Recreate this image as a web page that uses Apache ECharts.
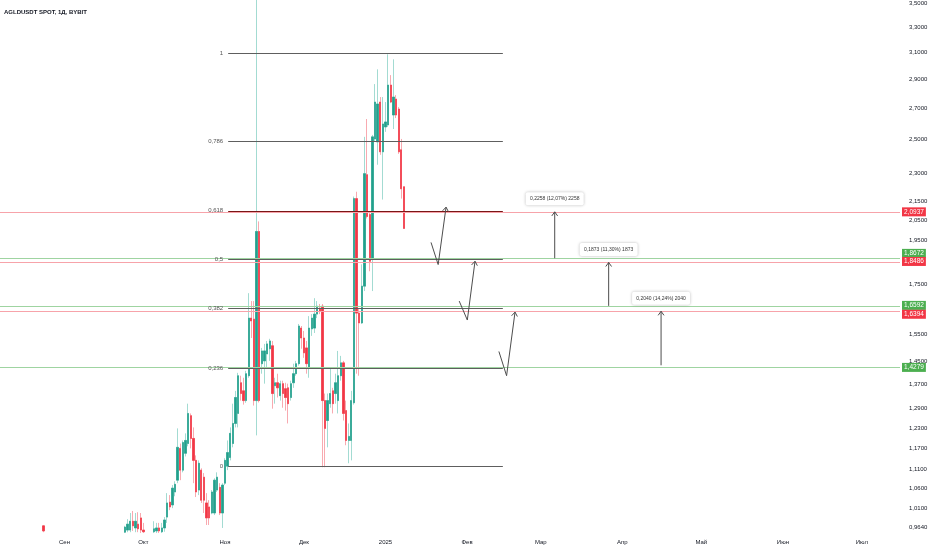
<!DOCTYPE html>
<html><head><meta charset="utf-8">
<script src="https://cdn.jsdelivr.net/npm/echarts@6/dist/echarts.min.js"></script>
<style>html,body{margin:0;padding:0;background:#fff}#c{width:932px;height:550px}</style>
</head><body><div id="c"></div>
<script>
const chartTitle = 'AGLDUSDT SPOT, 1Д, BYBIT';
const axisStart = '2024-08-08';
const axisEnd = '2025-07-15';
const monthTicks = ['2024-09-01','2024-10-01','2024-11-01','2024-12-01','2025-01-01','2025-02-01','2025-03-01','2025-04-01','2025-05-01','2025-06-01','2025-07-01'];
const monthNames = ['Сен','Окт','Ноя','Дек','2025','Фев','Мар','Апр','Май','Июн','Июл'];
const priceTicks = [0.964,1.01,1.06,1.11,1.17,1.23,1.29,1.37,1.45,1.55,1.75,1.95,2.05,2.15,2.3,2.5,2.7,2.9,3.1,3.3,3.5];
const priceMin = 0.9501, priceMax = 3.504;

const candleDates = ['2024-08-24',
'2024-09-24','2024-09-25','2024-09-26','2024-09-27','2024-09-28','2024-09-29','2024-09-30','2024-10-01',
'2024-10-05','2024-10-06','2024-10-07','2024-10-08','2024-10-09','2024-10-10','2024-10-11','2024-10-12','2024-10-13','2024-10-14','2024-10-15','2024-10-16','2024-10-17','2024-10-18','2024-10-19','2024-10-20','2024-10-21','2024-10-22','2024-10-23','2024-10-24','2024-10-25','2024-10-26','2024-10-27','2024-10-28','2024-10-29','2024-10-30','2024-10-31',
'2024-11-01','2024-11-02','2024-11-03','2024-11-04','2024-11-05','2024-11-06','2024-11-07','2024-11-08','2024-11-09','2024-11-10','2024-11-11','2024-11-12','2024-11-13','2024-11-14','2024-11-15','2024-11-16','2024-11-17','2024-11-18','2024-11-19','2024-11-20','2024-11-21','2024-11-22','2024-11-23','2024-11-24','2024-11-25','2024-11-26','2024-11-27','2024-11-28','2024-11-29','2024-11-30',
'2024-12-01','2024-12-02','2024-12-03','2024-12-04','2024-12-05','2024-12-06','2024-12-07','2024-12-08','2024-12-09','2024-12-10','2024-12-11','2024-12-12','2024-12-13','2024-12-14','2024-12-15','2024-12-16','2024-12-17','2024-12-18','2024-12-19','2024-12-20','2024-12-21','2024-12-22','2024-12-23','2024-12-24','2024-12-25','2024-12-26','2024-12-27','2024-12-28','2024-12-29','2024-12-30','2024-12-31',
'2025-01-01','2025-01-02','2025-01-03','2025-01-04','2025-01-05','2025-01-06','2025-01-07','2025-01-08'];

const opens = [0.967,
0.952,0.957,0.957,0.978,0.962,0.971,0.986,0.957,
0.953,0.955,0.962,0.953,0.962,0.988,1.025,1.018,1.051,1.082,1.170,1.109,1.156,1.184,1.268,1.199,1.136,1.056,1.109,1.090,1.023,1.013,0.998,0.998,1.056,1.063,0.998,
1.074,1.120,1.144,1.184,1.244,1.275,1.375,1.348,1.316,1.399,1.612,1.608,1.316,1.995,1.441,1.451,1.476,1.495,1.506,1.365,1.375,1.332,1.372,1.355,1.358,1.326,1.375,1.406,1.441,1.573,
1.535,1.498,1.427,1.570,1.573,1.628,1.652,1.660,1.316,1.253,1.306,1.348,1.339,1.316,1.399,1.444,1.284,1.193,1.193,1.309,2.163,1.632,1.593,1.744,2.294,2.080,1.863,2.505,2.487,2.743,2.427,
2.580,2.593,2.860,2.657,2.763,2.696,2.439,2.227];
const highs = [0.969,
0.967,0.983,0.998,1.003,0.998,1.000,0.998,0.974,
0.978,0.974,0.974,0.974,0.988,1.048,1.043,1.069,1.079,1.229,1.184,1.193,1.214,1.306,1.275,1.232,1.150,1.136,1.114,1.101,1.048,1.030,1.056,1.087,1.103,1.074,1.074,
1.142,1.193,1.232,1.306,1.348,1.409,1.399,1.392,1.416,1.714,1.681,1.681,4.600,2.045,1.498,1.513,1.524,1.532,1.524,1.392,1.406,1.382,1.382,1.375,1.372,1.382,1.441,1.451,1.589,1.581,
1.562,1.524,1.620,1.628,1.693,1.681,1.669,1.669,1.339,1.339,1.427,1.358,1.406,1.487,1.469,1.451,1.316,1.244,1.348,2.174,2.200,1.652,1.840,2.518,2.631,2.095,2.530,2.867,2.973,2.777,2.777,
2.743,3.085,2.931,3.047,2.790,2.709,2.505,2.227];
const lows = [0.952,
0.950,0.952,0.952,0.955,0.952,0.952,0.950,0.950,
0.950,0.950,0.950,0.950,0.953,0.974,1.005,1.010,1.040,1.074,1.082,1.103,1.147,1.176,1.170,1.074,1.038,1.043,1.023,0.998,0.969,0.969,0.995,0.993,1.051,0.993,0.962,
1.069,1.109,1.136,1.173,1.232,1.232,1.316,1.303,1.309,1.392,1.535,1.300,1.208,1.310,1.406,1.372,1.427,1.451,1.290,1.306,1.326,1.316,1.293,1.284,1.244,1.316,1.358,1.399,1.434,1.495,
1.462,1.406,1.392,1.543,1.554,1.612,1.628,1.117,1.117,1.173,1.293,1.275,1.306,1.275,1.382,1.253,1.179,1.128,1.136,1.303,1.406,1.399,1.589,1.723,2.060,1.809,1.723,2.487,2.351,2.409,2.158,
2.549,2.580,2.736,2.567,2.637,2.415,2.163,2.010];
const closes = [0.955,
0.964,0.971,0.978,0.967,0.978,0.960,0.957,0.953,
0.960,0.962,0.955,0.962,0.981,1.023,1.013,1.061,1.071,1.173,1.109,1.187,1.193,1.275,1.199,1.136,1.051,1.128,1.030,1.030,0.986,0.986,1.051,1.082,1.090,0.998,1.069,
1.136,1.158,1.214,1.244,1.326,1.399,1.339,1.316,1.406,1.612,1.601,1.316,1.995,1.316,1.487,1.487,1.513,1.524,1.339,1.375,1.358,1.372,1.339,1.326,1.306,1.372,1.406,1.441,1.581,1.535,
1.480,1.441,1.573,1.612,1.628,1.660,1.640,1.316,1.229,1.316,1.339,1.306,1.375,1.399,1.444,1.275,1.193,1.205,1.316,2.163,1.632,1.593,1.744,2.300,2.070,1.854,2.518,2.743,2.730,2.427,2.599,
2.612,2.860,2.743,2.777,2.657,2.427,2.216,2.010];

const levelPrices = [2.0937,1.8672,1.8486,1.6592,1.6394,1.4279];
const levelKinds = ['red','green','red','green','red','green'];

const fibLabels = ['1','0,786','0,618','0,5','0,382','0,236','0'];
const fibPrices = [3.095,2.490,2.099,1.862,1.651,1.424,1.120];
const fibStart = '2024-11-02T05:00', fibEnd = '2025-02-14T14:00';

const checkPaths = [
  [['2025-01-18T07:00',1.942],['2025-01-21T00:00',1.839],['2025-01-24T00:00',2.118]],
  [['2025-01-29T00:00',1.681],['2025-02-01T02:00',1.6045],['2025-02-04T00:00',1.854]],
  [['2025-02-13T02:00',1.485],['2025-02-16T00:00',1.399],['2025-02-19T05:00',1.636]]
];
const measureTimes = ['2025-03-06T07:00','2025-03-26T19:00','2025-04-15T17:00'];
const measureFrom = [1.8679,1.6613,1.4354];
const measureTo = [2.0937,1.8486,1.6394];
const measureLabels = ['0,2258 (12,07%) 2258','0,1873 (11,30%) 1873','0,2040 (14,24%) 2040'];

// ---- helpers ----
const DAY = 86400000;
const t0 = Date.parse(axisStart + 'T00:00Z');
function idx(s){ return (Date.parse((s.length === 10 ? s + 'T00:00' : s) + 'Z') - t0) / DAY; }
function L(p){ return Math.log10(p); }
function fmt(p){ return p.toFixed(4).replace('.', ','); }

const N = Math.round(idx(axisEnd)) + 1;
const cats = [];
for (let i = 0; i < N; i++) cats.push(new Date(t0 + i * DAY).toISOString().slice(0, 10));

const wickData = candleDates.map((d, i) => [idx(d), L(opens[i]), L(closes[i]), L(lows[i]), L(highs[i])]);
const bodyData = candleDates.map((d, i) => [idx(d), L(opens[i]), L(closes[i]), L(Math.min(opens[i], closes[i])), L(Math.max(opens[i], closes[i]))]);

const annotations = [];
checkPaths.forEach(p => annotations.push({ points: p }));
measureTimes.forEach((t, i) => annotations.push({ points: [[t, measureFrom[i]], [t, measureTo[i]]], label: measureLabels[i] }));

const UP = '#22a08c', DOWN = '#f23645', UPW = '#a3dbd2', DOWNW = '#f8aab0';
const pale = { red: '#f7a3aa', green: '#9fd4a1' };
const solid = { red: '#f23645', green: '#4caf50' };
const FONT = 'Liberation Sans, Arial, sans-serif';
// badge nudges so close price badges do not overlap (as on the right scale of the reference)
const badgeNudge = [0, -5, -1, -1, 3, 0];

function renderAnn(params, api) {
  const a = annotations[params.dataIndex];
  const pts = a.points.map(p => api.coord([idx(p[0]), L(p[1])]));
  const stroke = '#4d4d4d';
  const children = [{ type: 'polyline', shape: { points: pts }, style: { stroke, lineWidth: 1, fill: null } }];
  const [x1, y1] = pts[pts.length - 2], [x2, y2] = pts[pts.length - 1];
  const ang = Math.atan2(y2 - y1, x2 - x1), len = 5, s = 0.62;
  children.push({ type: 'polyline', shape: { points: [
    [x2 - len * Math.cos(ang - s), y2 - len * Math.sin(ang - s)], [x2, y2],
    [x2 - len * Math.cos(ang + s), y2 - len * Math.sin(ang + s)]] },
    style: { stroke, lineWidth: 1, fill: null } });
  if (a.label) {
    children.push({ type: 'rect', shape: { x: x2 - 29, y: y2 - 19.5, width: 58, height: 13, r: 2 },
      style: { fill: '#fff', shadowBlur: 3, shadowColor: 'rgba(0,0,0,0.28)' } });
    children.push({ type: 'text', style: { text: a.label, x: x2, y: y2 - 13, align: 'center', verticalAlign: 'middle',
      fontSize: 5, fill: '#333', fontFamily: FONT } });
  }
  return { type: 'group', children };
}

const markData = [];
levelPrices.forEach((p, i) => {
  const k = levelKinds[i];
  markData.push({ yAxis: L(p), lineStyle: { color: pale[k], width: 1.2, type: 'solid' },
    label: { show: true, position: 'end', formatter: fmt(p), color: '#fff', backgroundColor: solid[k],
      padding: [1.5, 2, 0.5, 2], fontSize: 6.5, distance: 2, offset: [0, badgeNudge[i]], fontFamily: FONT } });
});
fibPrices.forEach((p, i) => {
  markData.push([
    { coord: [idx(fibStart), L(p)], lineStyle: { color: fibLabels[i] === '0,618' ? '#7a1616' : '#5e5e5e', width: 1, type: 'solid' },
      label: { show: true, position: 'start', formatter: fibLabels[i], color: '#555', fontSize: 6, distance: 5, fontFamily: FONT } },
    { coord: [idx(fibEnd), L(p)] }
  ]);
});

const chart = echarts.init(document.getElementById('c'));
chart.setOption({
  animation: false,
  backgroundColor: '#fff',
  textStyle: { fontFamily: FONT },
  title: { text: chartTitle, left: 4, top: 9, padding: 0,
    textStyle: { fontSize: 6, fontWeight: 'bold', color: '#131722', fontFamily: FONT } },
  grid: { left: 0, right: 32, top: 0, bottom: 17 },
  xAxis: [
    { type: 'category', data: cats, boundaryGap: true,
      axisLine: { show: false }, axisTick: { show: false }, splitLine: { show: false },
      axisLabel: { interval: (i, v) => monthTicks.includes(v), formatter: v => monthNames[monthTicks.indexOf(v)],
        fontSize: 6, color: '#131722', margin: 6 } },
    { type: 'value', min: -0.5, max: N - 0.5, show: false }
  ],
  yAxis: { type: 'value', position: 'right', min: L(priceMin), max: L(priceMax),
    splitLine: { show: false }, axisLine: { show: false }, axisTick: { show: false },
    axisLabel: { customValues: priceTicks.map(L), formatter: v => fmt(Math.pow(10, v)),
      fontSize: 6, color: '#131722', margin: 9 } },
  series: [
    { type: 'candlestick', name: 'wick', xAxisIndex: 0, data: wickData, encode: { x: 0, y: [1, 2, 3, 4] },
      barWidth: 1.8, clip: true, z: 2,
      itemStyle: { color: UPW, color0: DOWNW, borderColor: UPW, borderColor0: DOWNW, borderWidth: 1 } },
    { type: 'candlestick', name: 'body', xAxisIndex: 0, data: bodyData, encode: { x: 0, y: [1, 2, 3, 4] },
      barWidth: 1.8, clip: true, z: 3,
      itemStyle: { color: UP, color0: DOWN, borderColor: UP, borderColor0: DOWN, borderWidth: 0.6 } },
    { type: 'line', name: 'levels', xAxisIndex: 1, data: [], z: 4,
      markLine: { silent: true, precision: 8, symbol: ['none', 'none'], animation: false, data: markData } },
    { type: 'custom', name: 'drawings', xAxisIndex: 1, silent: true, z: 5,
      data: annotations.map(a => [idx(a.points[0][0]), L(a.points[0][1])]),
      renderItem: renderAnn }
  ]
});
</script>
</body></html>
